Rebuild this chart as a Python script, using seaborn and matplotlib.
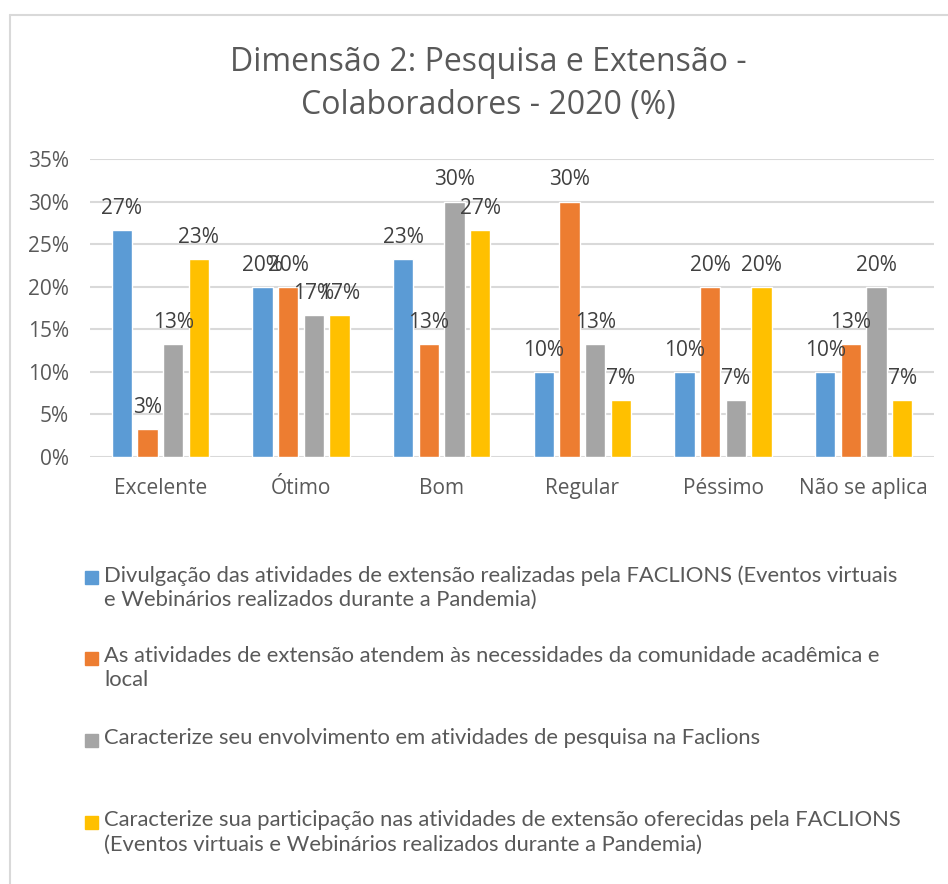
import matplotlib
matplotlib.use("Agg")
import matplotlib.pyplot as plt
import seaborn as sns
import pandas as pd
from matplotlib.patches import Rectangle
from matplotlib.lines import Line2D
from matplotlib.ticker import PercentFormatter

# data
categories = ["Excelente", "Ótimo", "Bom", "Regular", "Péssimo", "Não se aplica"]
series = [
    "Divulgação das atividades de extensão realizadas pela FACLIONS (Eventos virtuais\ne Webinários realizados durante a Pandemia)",
    "As atividades de extensão atendem às necessidades da comunidade acadêmica e\nlocal",
    "Caracterize seu envolvimento em atividades de pesquisa na Faclions",
    "Caracterize sua participação nas atividades de extensão oferecidas pela FACLIONS\n(Eventos virtuais e Webinários realizados durante a Pandemia)",
]
divulgacao = [0.267, 0.200, 0.233, 0.100, 0.100, 0.100]
atendem = [0.033, 0.200, 0.133, 0.300, 0.200, 0.133]
envolvimento = [0.133, 0.167, 0.300, 0.133, 0.067, 0.200]
participacao = [0.233, 0.167, 0.267, 0.067, 0.200, 0.067]
colors = ["#5B9BD5", "#ED7D31", "#A5A5A5", "#FFC000"]

rows = []
for s, vals in zip(series, [divulgacao, atendem, envolvimento, participacao]):
    for c, v in zip(categories, vals):
        rows.append({"categoria": c, "serie": s, "valor": v})
df = pd.DataFrame(rows)

sns.set_style("white")
plt.rcParams["font.family"] = ["Open Sans", "DejaVu Sans"]

W, H = 948, 884
fig = plt.figure(figsize=(W / 100, H / 100), dpi=100)
ax = fig.add_axes([90 / W, 1 - 457 / H, (934 - 90) / W, (457 - 159) / H])

sns.barplot(data=df, x="categoria", y="valor", hue="serie", order=categories,
            hue_order=series, palette=colors, width=0.73, gap=0.2,
            saturation=1, legend=False, ax=ax)

ax.set_ylim(0, 0.35)
ax.set_xlim(-0.5, len(categories) - 0.5)
ax.set_yticks([i * 0.05 for i in range(8)])
ax.yaxis.set_major_formatter(PercentFormatter(1.0, decimals=0))
ax.grid(axis="y", color="#d9d9d9", lw=1.5)
ax.set_axisbelow(True)
for sp in ax.spines.values():
    sp.set_visible(False)
ax.set_xlabel("")
ax.set_ylabel("")
ax.tick_params(axis="y", length=0, pad=15, labelsize=15, labelcolor="#595959")
ax.tick_params(axis="x", length=0, pad=15, labelsize=15, labelcolor="#595959")

for cont in ax.containers:
    ax.bar_label(cont, labels=[f"{v:.0%}" for v in cont.datavalues],
                 padding=8, fontsize=15, color="#404040")

fig.text(488 / W, 1 - 84 / H, "Dimensão 2: Pesquisa e Extensão -\nColaboradores - 2020 (%)",
         ha="center", va="center", fontsize=23, color="#595959", linespacing=1.4)

# legend drawn by hand so wrapped entries line up like the original
legend_y = [577, 658, 740, 822]
for y, c, s in zip(legend_y, colors, series):
    fig.patches.append(Rectangle((85 / W, 1 - (y + 7) / H), 13 / W, 13 / H,
                                 transform=fig.transFigure, color=c))
    fig.text(104 / W, 1 - (y - 12) / H, s, ha="left", va="top", fontsize=15.8,
             color="#595959", linespacing=1.28, family=["Lato", "DejaVu Sans"])

# chart area border
fig.lines.append(Line2D([10 / W, 10 / W], [0, 1 - 15 / H], transform=fig.transFigure,
                        color="#d9d9d9", lw=1.5))
fig.lines.append(Line2D([10 / W, 1], [1 - 15 / H, 1 - 15 / H], transform=fig.transFigure,
                        color="#d9d9d9", lw=1.5))

fig.savefig("out.png", dpi=100)
